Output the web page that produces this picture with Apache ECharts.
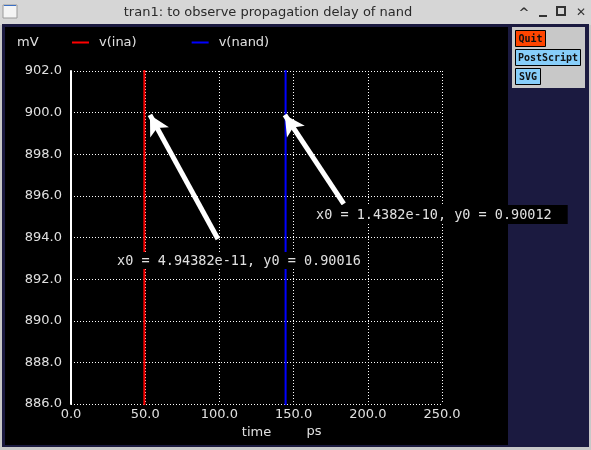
<!DOCTYPE html>
<html><head><meta charset="utf-8">
<script src="https://cdn.jsdelivr.net/npm/echarts@6/dist/echarts.min.js"></script>
<style>html,body{margin:0;padding:0;background:#c8c8c8;}#c{width:591px;height:450px;}</style>
</head><body><div id="c"></div>
<script>
// ---- data ----
const xTicks = [0, 50, 100, 150, 200, 250];          // ps
const yTicks = [886, 888, 890, 892, 894, 896, 898, 900, 902]; // mV
const inaTime = [49.44, 49.44];
const inaVal  = [880, 910];
const nandTime = [144.6, 144.6];
const nandVal  = [880, 910];
const arrowTails = [[99.0, 893.93], [183.8, 895.61]];
const arrowTips  = [[53.2, 899.89], [144.1, 899.89]];
const cursorTexts = ['x0 = 4.94382e-11, y0 = 0.90016', 'x0 = 1.4382e-10, y0 = 0.90012'];

const chart = echarts.init(document.getElementById('c'), null, {renderer:'canvas'});
const FG = '#e0e0e0';
const sans = 'DejaVu Sans';
const mono = 'DejaVu Sans Mono';

const btn = (x, y, w, h, fill, label) => ([
    {type:'rect', z:100, shape:{x:x, y:y, width:w, height:h}, style:{fill:fill, stroke:'#000', lineWidth:1}},
    {type:'text', z:101, style:{x:x + w/2, y:y + h/2 + 0.5, text:label, fill:'#111', font:'bold 10px "'+mono+'"', align:'center', verticalAlign:'middle'}}
  ]);

const option = {
  animation:false,
  backgroundColor:'#c8c8c8',
  graphic:[
    // window chrome
    {type:'rect', z:-10, shape:{x:0, y:0, width:591, height:25}, style:{fill:'#d6d6d6'}},
    {type:'rect', z:-10, shape:{x:2, y:24, width:587, height:423}, style:{fill:'#1b1a40'}},
    {type:'rect', z:-9, shape:{x:5, y:27, width:503, height:418}, style:{fill:'#000'}},
    {type:'text', z:10, style:{x:268, y:12.5, text:'tran1: to observe propagation delay of nand', fill:'#2a2a2a', font:'13px "'+sans+'"', align:'center', verticalAlign:'middle'}},
    {type:'rect', z:10, shape:{x:3, y:5, width:14, height:13}, style:{fill:'#f4f4f4', stroke:'#9a9a9a', lineWidth:1}},
    {type:'rect', z:11, shape:{x:4, y:5, width:12, height:1}, style:{fill:'#3a6fc4'}},
    {type:'text', z:10, style:{x:524, y:14, text:'^', fill:'#333', font:'bold 13px "'+sans+'"', align:'center', verticalAlign:'middle'}},
    {type:'rect', z:10, shape:{x:539, y:15, width:8, height:2}, style:{fill:'#333'}},
    {type:'rect', z:10, shape:{x:557, y:7, width:8, height:8}, style:{fill:'none', stroke:'#333', lineWidth:2}},
    {type:'text', z:10, style:{x:581, y:12.5, text:'✕', fill:'#333', font:'bold 12px "'+sans+'"', align:'center', verticalAlign:'middle'}},
    // button panel
    {type:'rect', z:50, shape:{x:512, y:27, width:73, height:61}, style:{fill:'#c8c8c8'}},
    ...btn(515.5, 30.5, 30, 16, '#ff4500', 'Quit'),
    ...btn(515.5, 49.5, 65, 16, '#87cefa', 'PostScript'),
    ...btn(515.5, 68.5, 25, 16, '#87cefa', 'SVG'),
    // unit labels
    {type:'text', z:10, style:{x:17, y:43, text:'mV', fill:FG, font:'13px "'+sans+'"', verticalAlign:'middle'}},
    {type:'text', z:10, style:{x:314, y:432, text:'ps', fill:FG, font:'13px "'+sans+'"', align:'center', verticalAlign:'middle'}},
    // cursor readouts
    {type:'text', z:60, style:{x:107, y:252, text:cursorTexts[0], fill:FG, font:'13.5px "'+mono+'"', backgroundColor:'#000', padding:[2,6,1,10]}},
    {type:'text', z:60, style:{x:306, y:205, text:cursorTexts[1], fill:FG, font:'13.5px "'+mono+'"', backgroundColor:'#000', padding:[3,16,2,10]}}
  ],
  legend:{
    left:72, top:36, padding:0, itemWidth:17, itemHeight:2, itemGap:55, icon:'rect',
    textStyle:{color:FG, fontFamily:sans, fontSize:13, padding:[0,0,0,5]},
    data:['v(ina)','v(nand)']
  },
  grid:{left:71, right:149, top:71, bottom:46, containLabel:false},
  xAxis:{
    type:'value', min:xTicks[0], max:xTicks[xTicks.length-1], interval:50,
    name:'time', nameLocation:'middle', nameGap:19,
    nameTextStyle:{color:FG, fontFamily:sans, fontSize:13},
    axisLine:{show:false}, axisTick:{show:false},
    axisLabel:{color:FG, fontFamily:sans, fontSize:13, margin:4, formatter:v=>v.toFixed(1)},
    splitLine:{show:true, lineStyle:{color:'#ffffff', type:[1,2], width:1}}
  },
  yAxis:{
    type:'value', min:yTicks[0], max:yTicks[yTicks.length-1], interval:2,
    axisLine:{show:true, onZero:false, lineStyle:{color:'#ffffff', width:2}}, axisTick:{show:false},
    axisLabel:{color:FG, fontFamily:sans, fontSize:13, margin:9, formatter:v=>v.toFixed(1)},
    splitLine:{show:true, lineStyle:{color:'#ffffff', type:[1,2], width:1}}
  },
  series:[
    {name:'v(ina)', type:'line', showSymbol:false, symbol:'none', clip:true, z:5,
     color:'#ff0000', lineStyle:{width:2, color:'#ff0000'},
     data:inaTime.map((t,i)=>[t, inaVal[i]]),
     markLine:{silent:true, symbol:['none','arrow'], symbolSize:[16,20], z:40,
       label:{show:false}, lineStyle:{color:'#ffffff', width:5, type:'solid'},
       emphasis:{disabled:true},
       data:arrowTails.map((a,i)=>[{coord:a}, {coord:arrowTips[i]}])}
    },
    {name:'v(nand)', type:'line', showSymbol:false, symbol:'none', clip:true, z:5,
     color:'#0000ff', lineStyle:{width:2, color:'#0000ff'},
     data:nandTime.map((t,i)=>[t, nandVal[i]])}
  ]
};
chart.setOption(option);
</script></body></html>
